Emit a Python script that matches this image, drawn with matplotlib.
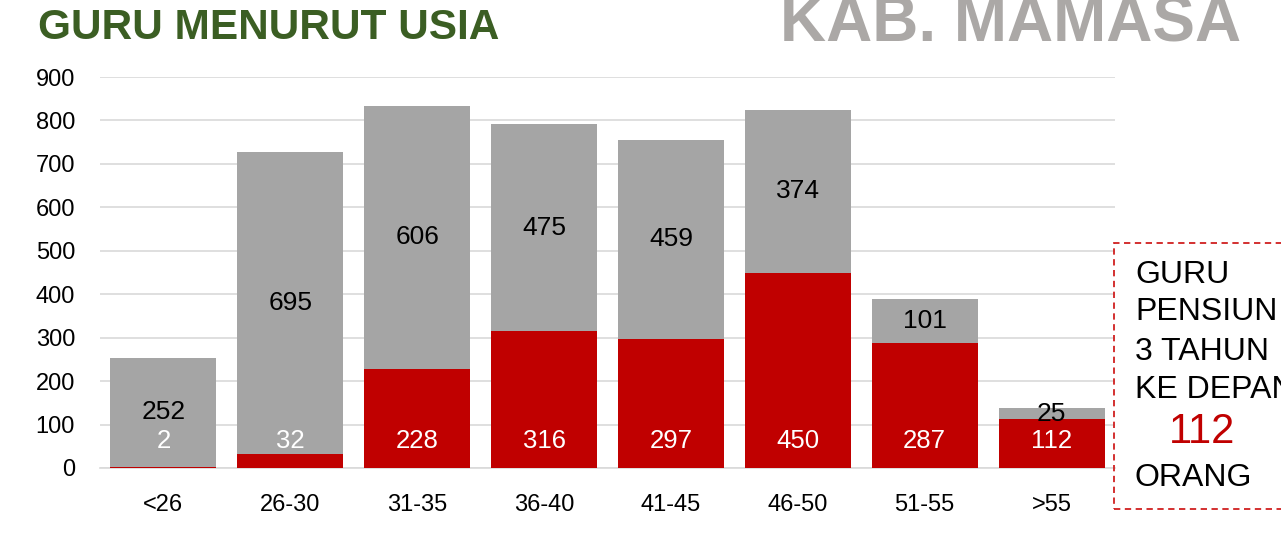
import matplotlib
matplotlib.use("Agg")
import matplotlib.pyplot as plt
from matplotlib.patches import Rectangle, Patch
import numpy as np

categories = ["<26", "26-30", "31-35", "36-40", "41-45", "46-50", "51-55", ">55"]
pns = [2, 32, 228, 316, 297, 450, 287, 112]
bukan_pns = [252, 695, 606, 475, 459, 374, 101, 25]
yticks = [0, 100, 200, 300, 400, 500, 600, 700, 800, 900]

RED = "#C00000"
GRAY = "#A5A5A5"
plt.rcParams['font.family'] = ['Liberation Sans', 'DejaVu Sans']

W, H = 1281, 556
fig = plt.figure(figsize=(W/100, H/100), dpi=100)
ax = fig.add_axes([100/W, (H-468)/H, (1115-100)/W, (468-77)/H])

x = np.arange(len(categories))
bw = 0.835
ax.bar(x, pns, width=bw, color=RED, label="PNS", zorder=3, linewidth=0)
ax.bar(x, bukan_pns, width=bw, bottom=pns, color=GRAY, label="Bukan PNS", zorder=3, linewidth=0)

for i in range(len(categories)):
    ax.text(x[i], 62, str(pns[i]), ha="center", va="center", color="white", fontsize=18.5, zorder=4)
    ax.text(x[i], pns[i] + bukan_pns[i] / 2, str(bukan_pns[i]), ha="center", va="center",
            color="black", fontsize=19, zorder=4)

ax.set_xlim(-0.5, len(categories) - 0.5)
ax.set_ylim(0, 900)
ax.set_yticks(yticks)
ax.set_xticks(x)
ax.set_xticklabels(categories)
ax.tick_params(axis="y", length=0, labelsize=17, pad=18)
ax.tick_params(axis="x", length=0, labelsize=17, pad=19)
ax.grid(axis="y", color="#D9D9D9", linewidth=1.2, zorder=0)
for s in ["top", "right", "left"]:
    ax.spines[s].set_visible(False)
ax.spines["bottom"].set_color("#D9D9D9")
ax.spines["bottom"].set_linewidth(1.2)

fig.text(38/W, 1 - 28/H, "GURU MENURUT USIA", fontsize=30.5, fontweight="bold",
         color="#3B5E23", ha="left", va="center")
fig.text(780/W, 1 - 41/H, "KAB. MAMASA", fontsize=46, fontweight="bold",
         color="#ABA8A6", ha="left", va="baseline")

# retirement box
rect = Rectangle((1114/W, (H-509)/H), 200/W, (509-243)/H, transform=fig.transFigure,
                 fill=False, edgecolor="#D02020", linestyle=(0, (3.5, 2.5)), linewidth=1.3,
                 clip_on=False)
fig.patches.append(rect)
box_lines = [("GURU", 275, "black", 1135), ("PENSIUN", 312, "black", 1135),
             ("3 TAHUN", 352, "black", 1135), ("KE DEPAN", 390, "black", 1135),
             ("112", 432, RED, 1169), ("ORANG", 478, "black", 1135)]
for txt, yy, col, xx in box_lines:
    fig.text(xx/W, 1 - yy/H, txt, fontsize=30 if txt == "112" else 23, color=col,
             ha="left", va="center")

handles = [Patch(color=RED, label="PNS"), Patch(color=GRAY, label="Bukan PNS")]
fig.legend(handles=handles, loc="upper center", bbox_to_anchor=(586/W, 1 - 543/H),
           ncol=2, frameon=False, fontsize=17, handlelength=0.7, handleheight=0.7,
           columnspacing=1.2, handletextpad=0.5)

fig.savefig("out.png", dpi=100)
